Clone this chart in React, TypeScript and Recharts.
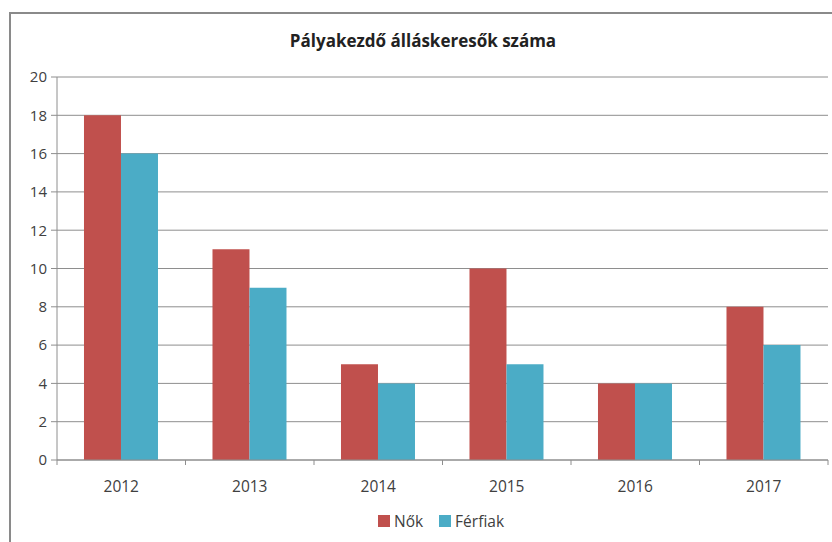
import React from 'react';
import { BarChart, Bar, XAxis, YAxis, CartesianGrid } from 'recharts';

const years = ['2012', '2013', '2014', '2015', '2016', '2017'];
const nok = [18, 11, 5, 10, 4, 8];
const ferfiak = [16, 9, 4, 5, 4, 6];
const yTicks = [0, 2, 4, 6, 8, 10, 12, 14, 16, 18, 20];

const RED = '#C0504D';
const BLUE = '#4BACC6';
const GRID = '#8e8e8e';
const TEXT = '#404040';
const FONT = '"Open Sans", "Noto Sans", sans-serif';

const data = years.map((year, i) => ({ year, nok: nok[i], ferfiak: ferfiak[i] }));

const HALF_BAND = (828 - 57) / 6 / 2;

const YearTick = (props: any) => {
  const { x, y, payload, index } = props;
  return (
    <g>
      <line x1={x - HALF_BAND} x2={x - HALF_BAND} y1={y} y2={y + 5} stroke={GRID} />
      {index === years.length - 1 && (
        <line x1={x + HALF_BAND} x2={x + HALF_BAND} y1={y} y2={y + 5} stroke={GRID} />
      )}
      <text x={x} y={y + 32} textAnchor="middle" fill={TEXT} fontSize={15.5} fontFamily={FONT}>
        {payload.value}
      </text>
    </g>
  );
};

export default function App() {
  return (
    <div style={{ position: 'fixed', left: 0, top: 0, width: 832, height: 542, background: '#fff', overflow: 'hidden' }}>
      <div
        style={{
          position: 'absolute',
          left: 9,
          top: 12,
          width: 840,
          height: 560,
          borderLeft: '2px solid #8a8a8a',
          borderTop: '2px solid #8a8a8a',
        }}
      />
      <div
        style={{
          position: 'absolute',
          left: 10,
          width: 826,
          top: 29,
          textAlign: 'center',
          fontFamily: FONT,
          fontWeight: 'bold',
          fontSize: 17,
          color: '#222',
        }}
      >
        Pályakezdő álláskeresők száma
      </div>
      <div style={{ position: 'absolute', left: 0, top: 0 }}>
        <BarChart
          width={832}
          height={542}
          data={data}
          margin={{ top: 77, right: 4, left: 10, bottom: 52 }}
          barCategoryGap="21%"
          barGap={0}
        >
          <CartesianGrid vertical={false} stroke={GRID} strokeWidth={1} />
          <XAxis
            dataKey="year"
            height={30}
            axisLine={{ stroke: GRID }}
            tickLine={false}
            tickSize={0}
            tickMargin={0}
            tick={<YearTick />}
            interval={0}
          />
          <YAxis
            width={47}
            domain={[0, 20]}
            ticks={yTicks}
            interval={0}
            axisLine={{ stroke: GRID }}
            tickLine={{ stroke: GRID }}
            tickSize={6}
            tickMargin={4}
            tick={{ fill: TEXT, fontSize: 15, fontFamily: FONT }}
          />
          <Bar dataKey="nok" name="Nők" fill={RED} isAnimationActive={false} />
          <Bar dataKey="ferfiak" name="Férfiak" fill={BLUE} isAnimationActive={false} />
        </BarChart>
      </div>
      <div
        style={{
          position: 'absolute',
          left: 0,
          width: 882,
          top: 510,
          display: 'flex',
          justifyContent: 'center',
          gap: 16,
          fontFamily: FONT,
          fontSize: 15.5,
          color: TEXT,
        }}
      >
        <div style={{ display: 'flex', alignItems: 'center', gap: 4 }}>
          <div style={{ width: 12, height: 12, background: RED }} />
          <span>Nők</span>
        </div>
        <div style={{ display: 'flex', alignItems: 'center', gap: 4 }}>
          <div style={{ width: 12, height: 12, background: BLUE }} />
          <span>Férfiak</span>
        </div>
      </div>
    </div>
  );
}
